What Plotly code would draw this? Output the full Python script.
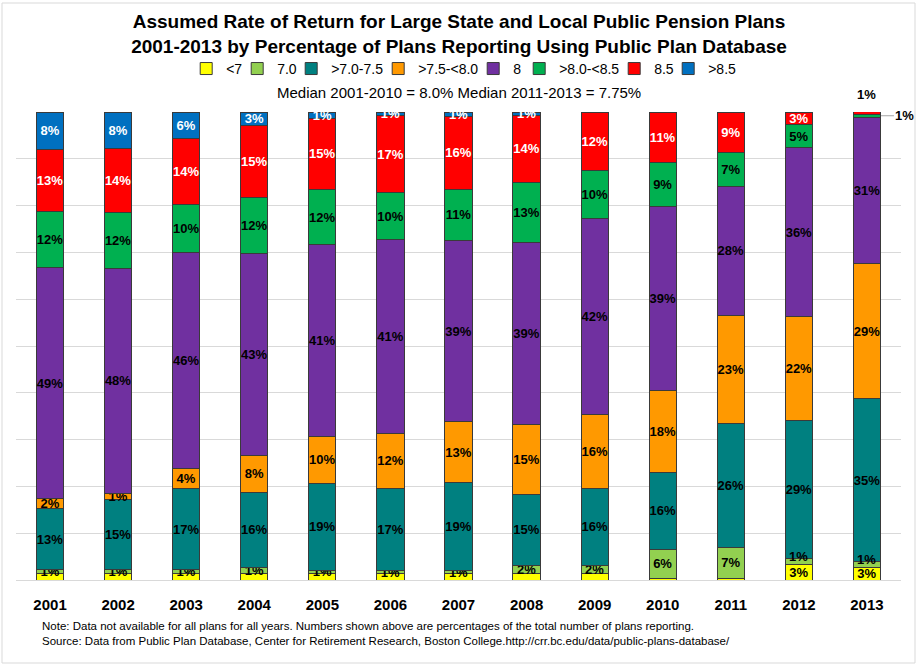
import plotly.graph_objects as go

years = ['2001', '2002', '2003', '2004', '2005', '2006', '2007', '2008', '2009', '2010', '2011', '2012', '2013']
series_names = ['<7', '7.0', '>7.0-7.5', '>7.5-<8.0', '8', '>8.0-<8.5', '8.5', '>8.5']

lt7 = [1.3, 1.3, 1.3, 1.3, 1.4, 1.3, 1.3, 1.3, 1.3, 0.4, 0.4, 3.4, 2.6]
v70 = [0.9, 0.9, 0.9, 1.4, 0.7, 0.8, 0.8, 1.9, 1.9, 6.2, 6.6, 1.3, 1.3]
v70_75 = [13.0, 14.9, 17.3, 16.1, 18.6, 17.4, 18.8, 15.0, 16.4, 16.3, 26.4, 29.3, 34.8]
v75_80 = [2.2, 1.4, 4.3, 7.9, 9.9, 11.9, 12.9, 15.0, 15.8, 17.6, 23.1, 22.3, 28.9]
v8 = [49.3, 48.1, 46.1, 43.0, 41.0, 41.3, 38.7, 39.0, 41.9, 39.3, 27.6, 36.1, 31.3]
v80_85 = [12.0, 11.9, 10.4, 12.0, 11.8, 10.0, 11.0, 12.8, 10.3, 9.4, 7.3, 4.9, 0.6]
v85 = [13.2, 13.6, 14.1, 15.4, 15.3, 16.6, 15.6, 14.2, 12.4, 10.8, 8.6, 2.7, 0.6]
gt85 = [8.1, 7.9, 5.6, 2.9, 1.3, 0.7, 0.9, 0.8, 0.0, 0.0, 0.0, 0.0, 0.0]

series_values = [lt7, v70, v70_75, v75_80, v8, v80_85, v85, gt85]
colors = ['#FFFF00', '#92D050', '#008080', '#FF9900', '#7030A0', '#00B050', '#FF0000', '#0070C0']
label_colors = ['black', 'black', 'black', 'black', 'black', 'black', 'white', 'white']
label_min = [2.0, 0.5, 0.5, 0.5, 0.5, 0.5, 0.5, 0.5]
outside_label_series = ['>8.0-<8.5', '8.5']  # 2013 small segments labelled outside

title_text = ('<b>Assumed Rate of Return for Large State and Local Public Pension Plans<br>'
              '2001-2013 by Percentage of Plans Reporting Using Public Plan Database</b>')
subtitle_text = 'Median 2001-2010 = 8.0% Median 2011-2013 = 7.75%'
note_text = ('Note: Data not available for all plans for all years. Numbers shown above are percentages of the total number of plans reporting.<br>'
             'Source: Data from Public Plan Database, Center for Retirement Research, Boston College.http://crr.bc.edu/data/public-plans-database/')

LABEL_FONT = dict(family='Liberation Sans', size=13, color='black')
LEGEND_FONT = 14
# approximate Arial/Liberation Sans advance widths (em) to tighten legend entries
_adv = {'<': 0.584, '>': 0.584, '.': 0.278, '-': 0.333}


def legend_entry_width(label, last=False):
    w = sum(_adv.get(c, 0.556) for c in label) * LEGEND_FONT
    return round(w + 2) if last else max(1, round(w - 10))


# years where both the <7 and 7.0 segments carry a label: lift the 7.0 label a bit
lifted_70 = [yr for yr, a in zip(years, lt7) if a >= label_min[0]]

fig = go.Figure()
for i, (name, vals, col, lcol, lmin) in enumerate(zip(series_names, series_values, colors, label_colors, label_min)):
    texts = []
    for yr, v in zip(years, vals):
        if v < lmin or (yr == '2013' and name in outside_label_series) or (name == '7.0' and yr in lifted_70):
            texts.append('')
        else:
            texts.append(f'{round(v)}%')
    fig.add_trace(go.Bar(
        x=years, y=vals, name=name,
        marker=dict(color=col, line=dict(color='#3a3a3a', width=1)),
        text=texts, textposition='inside', insidetextanchor='middle', textangle=0,
        textfont=dict(family='Liberation Sans', size=13, color=lcol),
        texttemplate='<b>%{text}</b>',
        legendwidth=legend_entry_width(name, last=(i == len(series_names) - 1)),
        hoverinfo='x+y+name',
    ))

for yr in lifted_70:
    k = years.index(yr)
    fig.add_annotation(x=k, y=lt7[k] + v70[k] / 2, yref='y', text=f'<b>{round(v70[k])}%</b>',
                       showarrow=False, yshift=5, font=LABEL_FONT)

# 2013 small segment labels placed outside the bar (category index of 2013)
idx_2013 = years.index('2013')
red_2013 = v85[idx_2013]
green_2013 = v80_85[idx_2013]
top_2013 = sum(s[idx_2013] for s in series_values)
fig.add_annotation(x=idx_2013, y=top_2013 - red_2013 / 2, yref='y', text=f'<b>{round(red_2013)}%</b>',
                   showarrow=False, yshift=18, font=LABEL_FONT)
fig.add_annotation(x=idx_2013, y=top_2013 - red_2013 - green_2013 / 2, yref='y',
                   text=f'<b>{round(green_2013)}%</b>', showarrow=True, arrowhead=0,
                   arrowcolor='#a6a6a6', arrowwidth=1, ax=38, ay=0, standoff=14,
                   font=LABEL_FONT)

fig.add_annotation(x=0.5006, y=1.0406, xref='paper', yref='paper', text=subtitle_text,
                   showarrow=False, font=dict(family='Liberation Sans', size=15, color='black'),
                   xanchor='center', yanchor='middle')
fig.add_annotation(x=0.027, y=-0.081, xref='paper', yref='paper', text=note_text,
                   showarrow=False, align='left', xanchor='left', yanchor='top',
                   font=dict(family='Liberation Sans', size=11.5, color='black'))

# outer chart border
fig.add_shape(type='rect', xref='paper', yref='paper',
              x0=-14/885, x1=1 + 14/885, y0=-83/468, y1=1 + 109/468,
              line=dict(color='#d9d9d9', width=1))

fig.update_layout(
    width=918, height=666,
    margin=dict(l=16, r=17, t=112, b=86, autoexpand=False),
    paper_bgcolor='white', plot_bgcolor='white',
    barmode='stack', bargap=0.6,
    uniformtext=dict(minsize=13, mode='show'),
    title=dict(text=title_text, x=0.5, xanchor='center', y=1 - 28/666, yanchor='middle',
               font=dict(family='Liberation Sans', size=19, color='black')),
    legend=dict(orientation='h', x=0.507, xanchor='center', y=1.092, yanchor='middle',
                traceorder='normal', itemwidth=30,
                font=dict(family='Liberation Sans', size=LEGEND_FONT, color='black'),
                bgcolor='rgba(0,0,0,0)'),
    showlegend=True,
    font=dict(family='Liberation Sans'),
)
fig.update_xaxes(type='category', range=[-0.5, len(years) - 0.5], showgrid=False,
                 showline=True, linecolor='#d9d9d9',
                 ticks='', tickfont=dict(family='Liberation Sans', size=15, color='black'),
                 ticklabelstandoff=11, tickprefix='<b>', ticksuffix='</b>')
fig.update_yaxes(range=[0, 100], dtick=10, showgrid=True, gridcolor='#d9d9d9',
                 showticklabels=False, zeroline=False, ticks='')

fig.write_html('out.html', config={'displayModeBar': False},
               post_script="document.body.style.margin='0';")
